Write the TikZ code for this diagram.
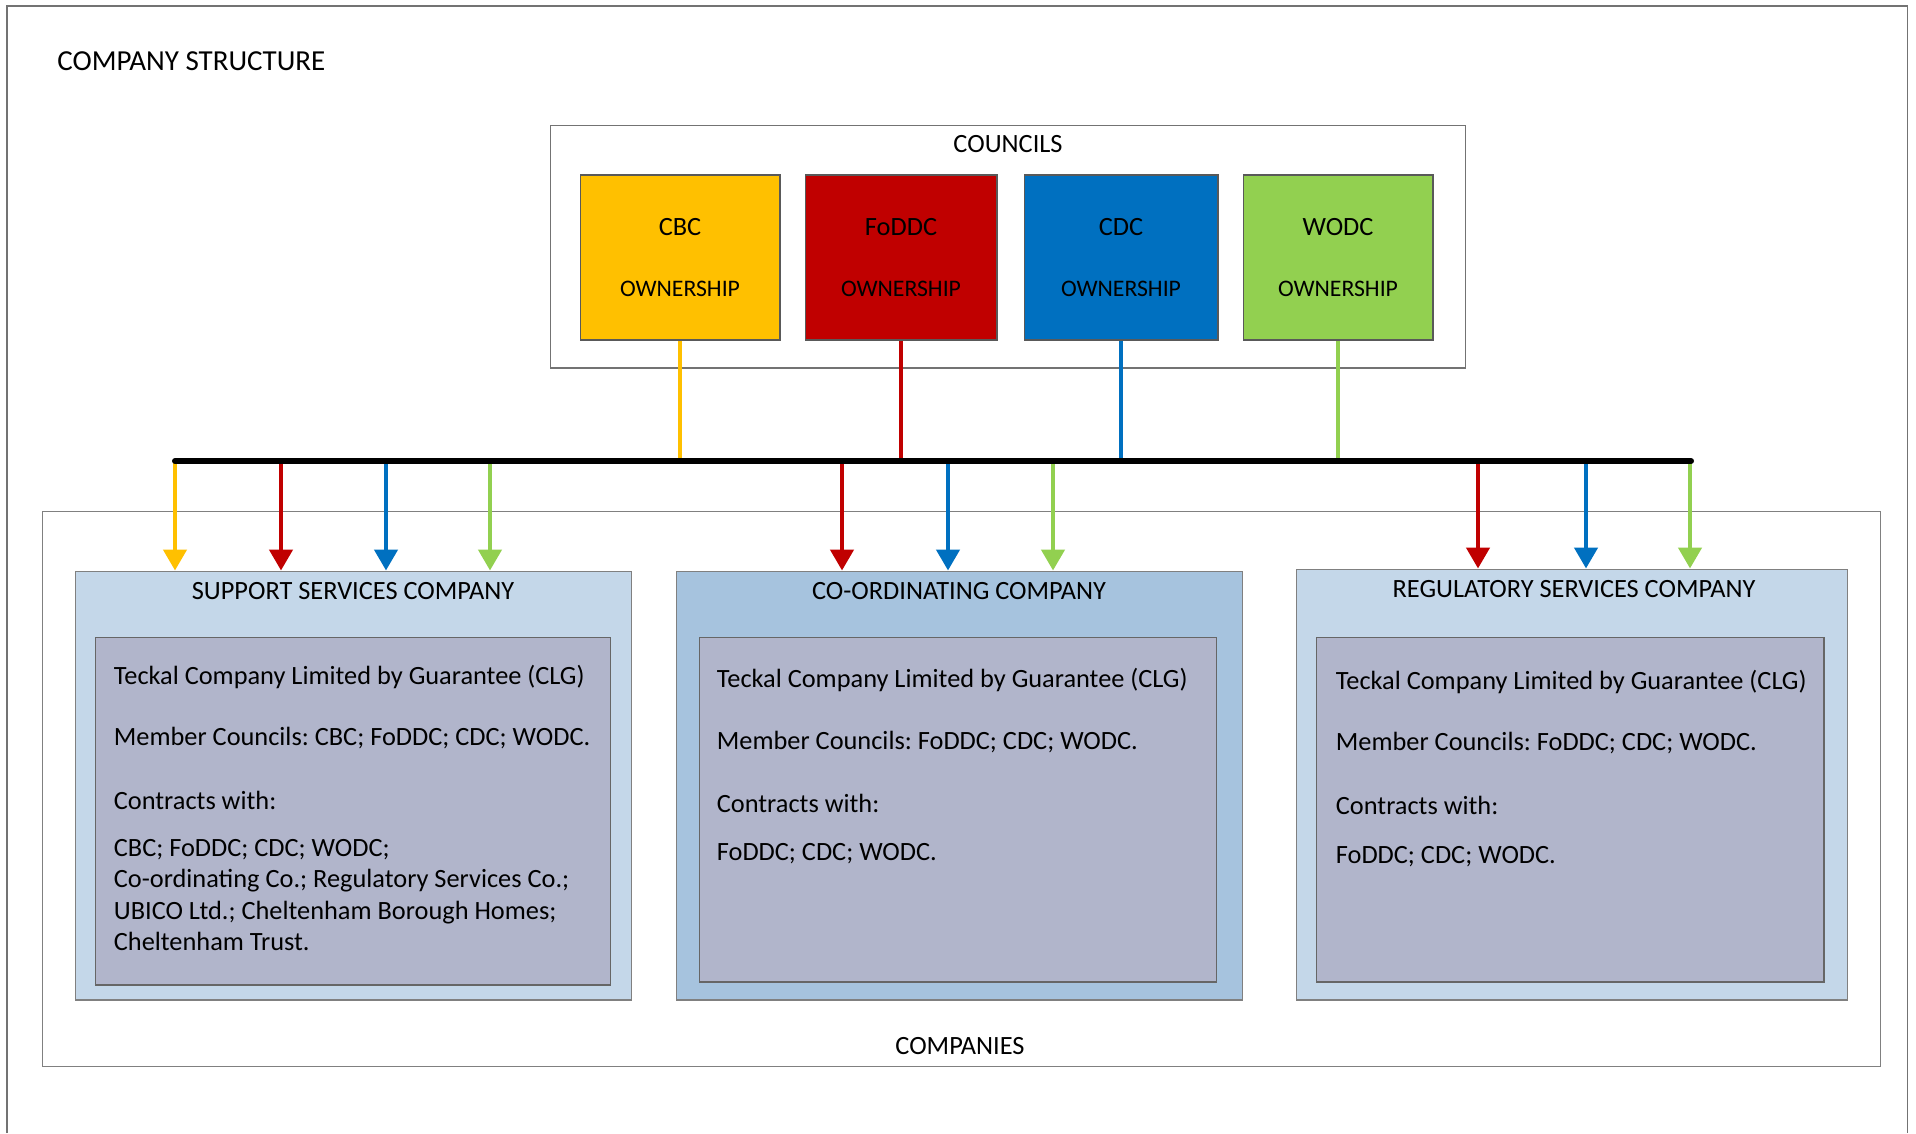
\documentclass[tikz,border=0pt]{standalone}
\usepackage{fontspec}
\setmainfont{Carlito}
\usepackage{tikz}
\usetikzlibrary{arrows.meta, calc, positioning}
\frenchspacing

\definecolor{cbcyellow}{HTML}{FFC000}
\definecolor{foddcred}{HTML}{C00000}
\definecolor{cdcblue}{HTML}{0070C0}
\definecolor{wodcgreen}{HTML}{92D050}
\definecolor{lightco}{HTML}{C4D7E9}
\definecolor{darkco}{HTML}{A6C3DE}
\definecolor{innergrey}{HTML}{B1B5CB}

\newcommand{\csbody}{\fontsize{15}{18}\selectfont}
\newcommand{\csown}{\fontsize{13.5}{16}\selectfont}
\newcommand{\cstitle}{\fontsize{16.5}{20}\selectfont}

\tikzset{
    framebox/.style = {draw=black!55, line width=0.6pt, fill=none},
    councilnode/.style = {draw=black!65, line width=0.6pt, rectangle, inner sep=0em,
      minimum height=3.3cm, align=center, font=\csown},
    companynode/.style = {draw=black!50, line width=0.6pt, rectangle, inner sep=0em},
    innernode/.style = {draw=black!60, line width=0.6pt, rectangle, fill=innergrey, inner sep=0em},
    textnode/.style = {draw=none, fill=none, rectangle, inner sep=0em, font=\csbody},
    listnode/.style = {textnode, anchor=north west, align=left},
    ownline/.style = {line width=0.09cm},
    feed/.style = {line width=0.09cm, -{Triangle[width=0.46cm, length=0.42cm]}},
    busline/.style = {black, line width=0.12cm, line cap=round}
}

\begin{document}
\begin{tikzpicture}[x=0.02cm, y=-0.02cm]
    \useasboundingbox (0,0) rectangle (1916,1133);
    \draw[framebox] (7,1133) -- (7,6) -- (1907,6) -- (1907,1133);
    \node[textnode, font=\cstitle, anchor=west, name=heading] at (57,61) {COMPANY STRUCTURE};

    % councils
    \node[framebox, rectangle, minimum width=18.32cm, minimum height=4.86cm, name=councils] at (1008,246.5) {};
    \node[textnode, name=councilstitle] at (1008,144) {COUNCILS};
    \node[councilnode, fill=cbcyellow, minimum width=4cm, name=CBC] at (680,257.5) {{\csbody CBC}\\[0.64cm]OWNERSHIP};
    \node[councilnode, fill=foddcred, minimum width=3.84cm, name=FoDDC] at (901,257.5) {{\csbody FoDDC}\\[0.64cm]OWNERSHIP};
    \node[councilnode, fill=cdcblue, minimum width=3.88cm, name=CDC] at (1121,257.5) {{\csbody CDC}\\[0.64cm]OWNERSHIP};
    \node[councilnode, fill=wodcgreen, minimum width=3.8cm, name=WODC] at (1338,257.5) {{\csbody WODC}\\[0.64cm]OWNERSHIP};

    % companies
    \node[companynode, minimum width=36.78cm, minimum height=11.12cm, name=companies] at (961.5,789) {};
    \node[textnode, name=companiestitle] at (960,1046) {COMPANIES};

    \node[companynode, fill=lightco, minimum width=11.14cm, minimum height=8.58cm, name=support] at (353.5,785.5) {};
    \node[textnode, name=supporttitle] at (353,591) {SUPPORT SERVICES COMPANY};
    \node[innernode, minimum width=10.32cm, minimum height=6.96cm, name=supportin] at (353,811) {};
    \node[listnode, name=supporttext] at ($(supportin.north west)+(19,28)$)
      {Teckal Company Limited by Guarantee (CLG)\\[0.6cm]
       Member Councils: CBC; FoDDC; CDC; WODC.\\[0.64cm]
       Contracts with:\\[0.3cm]
       CBC; FoDDC; CDC; WODC;\\
       Co-ordinating Co.; Regulatory Services Co.;\\
       UBICO Ltd.; Cheltenham Borough Homes;\\
       Cheltenham Trust.};

    \node[companynode, fill=darkco, minimum width=11.34cm, minimum height=8.58cm, name=coord] at (959.5,785.5) {};
    \node[textnode, name=coordtitle] at (959,591) {CO-ORDINATING COMPANY};
    \node[innernode, minimum width=10.36cm, minimum height=6.9cm, name=coordin] at (958,809.5) {};
    \node[listnode, name=coordtext] at ($(coordin.north west)+(18,31)$)
      {Teckal Company Limited by Guarantee (CLG)\\[0.62cm]
       Member Councils: FoDDC; CDC; WODC.\\[0.62cm]
       Contracts with:\\[0.32cm]
       FoDDC; CDC; WODC.};

    \node[companynode, fill=lightco, minimum width=11.04cm, minimum height=8.62cm, name=reg] at (1572,784.5) {};
    \node[textnode, name=regtitle] at (1574,589) {REGULATORY SERVICES COMPANY};
    \node[innernode, minimum width=10.16cm, minimum height=6.9cm, name=regin] at (1570,809.5) {};
    \node[listnode, name=regtext] at ($(regin.north west)+(20,33)$)
      {Teckal Company Limited by Guarantee (CLG)\\[0.6cm]
       Member Councils: FoDDC; CDC; WODC.\\[0.64cm]
       Contracts with:\\[0.34cm]
       FoDDC; CDC; WODC.};

    % ownership bus
    \coordinate (busL) at (175,461);
    \coordinate (busR) at (1691,461);
    \draw[ownline, cbcyellow] (CBC.south) -- (CBC.south |- busL);
    \draw[ownline, foddcred] (FoDDC.south) -- (FoDDC.south |- busL);
    \draw[ownline, cdcblue] (CDC.south) -- (CDC.south |- busL);
    \draw[ownline, wodcgreen] (WODC.south) -- (WODC.south |- busL);

    \coordinate (s1) at (175,461);
    \coordinate (s2) at (281,461);
    \coordinate (s3) at (386,461);
    \coordinate (s4) at (490,461);
    \coordinate (c1) at (842,461);
    \coordinate (c2) at (948,461);
    \coordinate (c3) at (1053,461);
    \coordinate (r1) at (1478,461);
    \coordinate (r2) at (1586,461);
    \coordinate (r3) at (1690,461);
    \draw[feed, cbcyellow] (s1) -- (s1 |- support.north);
    \draw[feed, foddcred] (s2) -- (s2 |- support.north);
    \draw[feed, cdcblue] (s3) -- (s3 |- support.north);
    \draw[feed, wodcgreen] (s4) -- (s4 |- support.north);
    \draw[feed, foddcred] (c1) -- (c1 |- coord.north);
    \draw[feed, cdcblue] (c2) -- (c2 |- coord.north);
    \draw[feed, wodcgreen] (c3) -- (c3 |- coord.north);
    \draw[feed, foddcred] (r1) -- (r1 |- reg.north);
    \draw[feed, cdcblue] (r2) -- (r2 |- reg.north);
    \draw[feed, wodcgreen] (r3) -- (r3 |- reg.north);
    \draw[busline] (busL) -- (busR);
\end{tikzpicture}
\end{document}
